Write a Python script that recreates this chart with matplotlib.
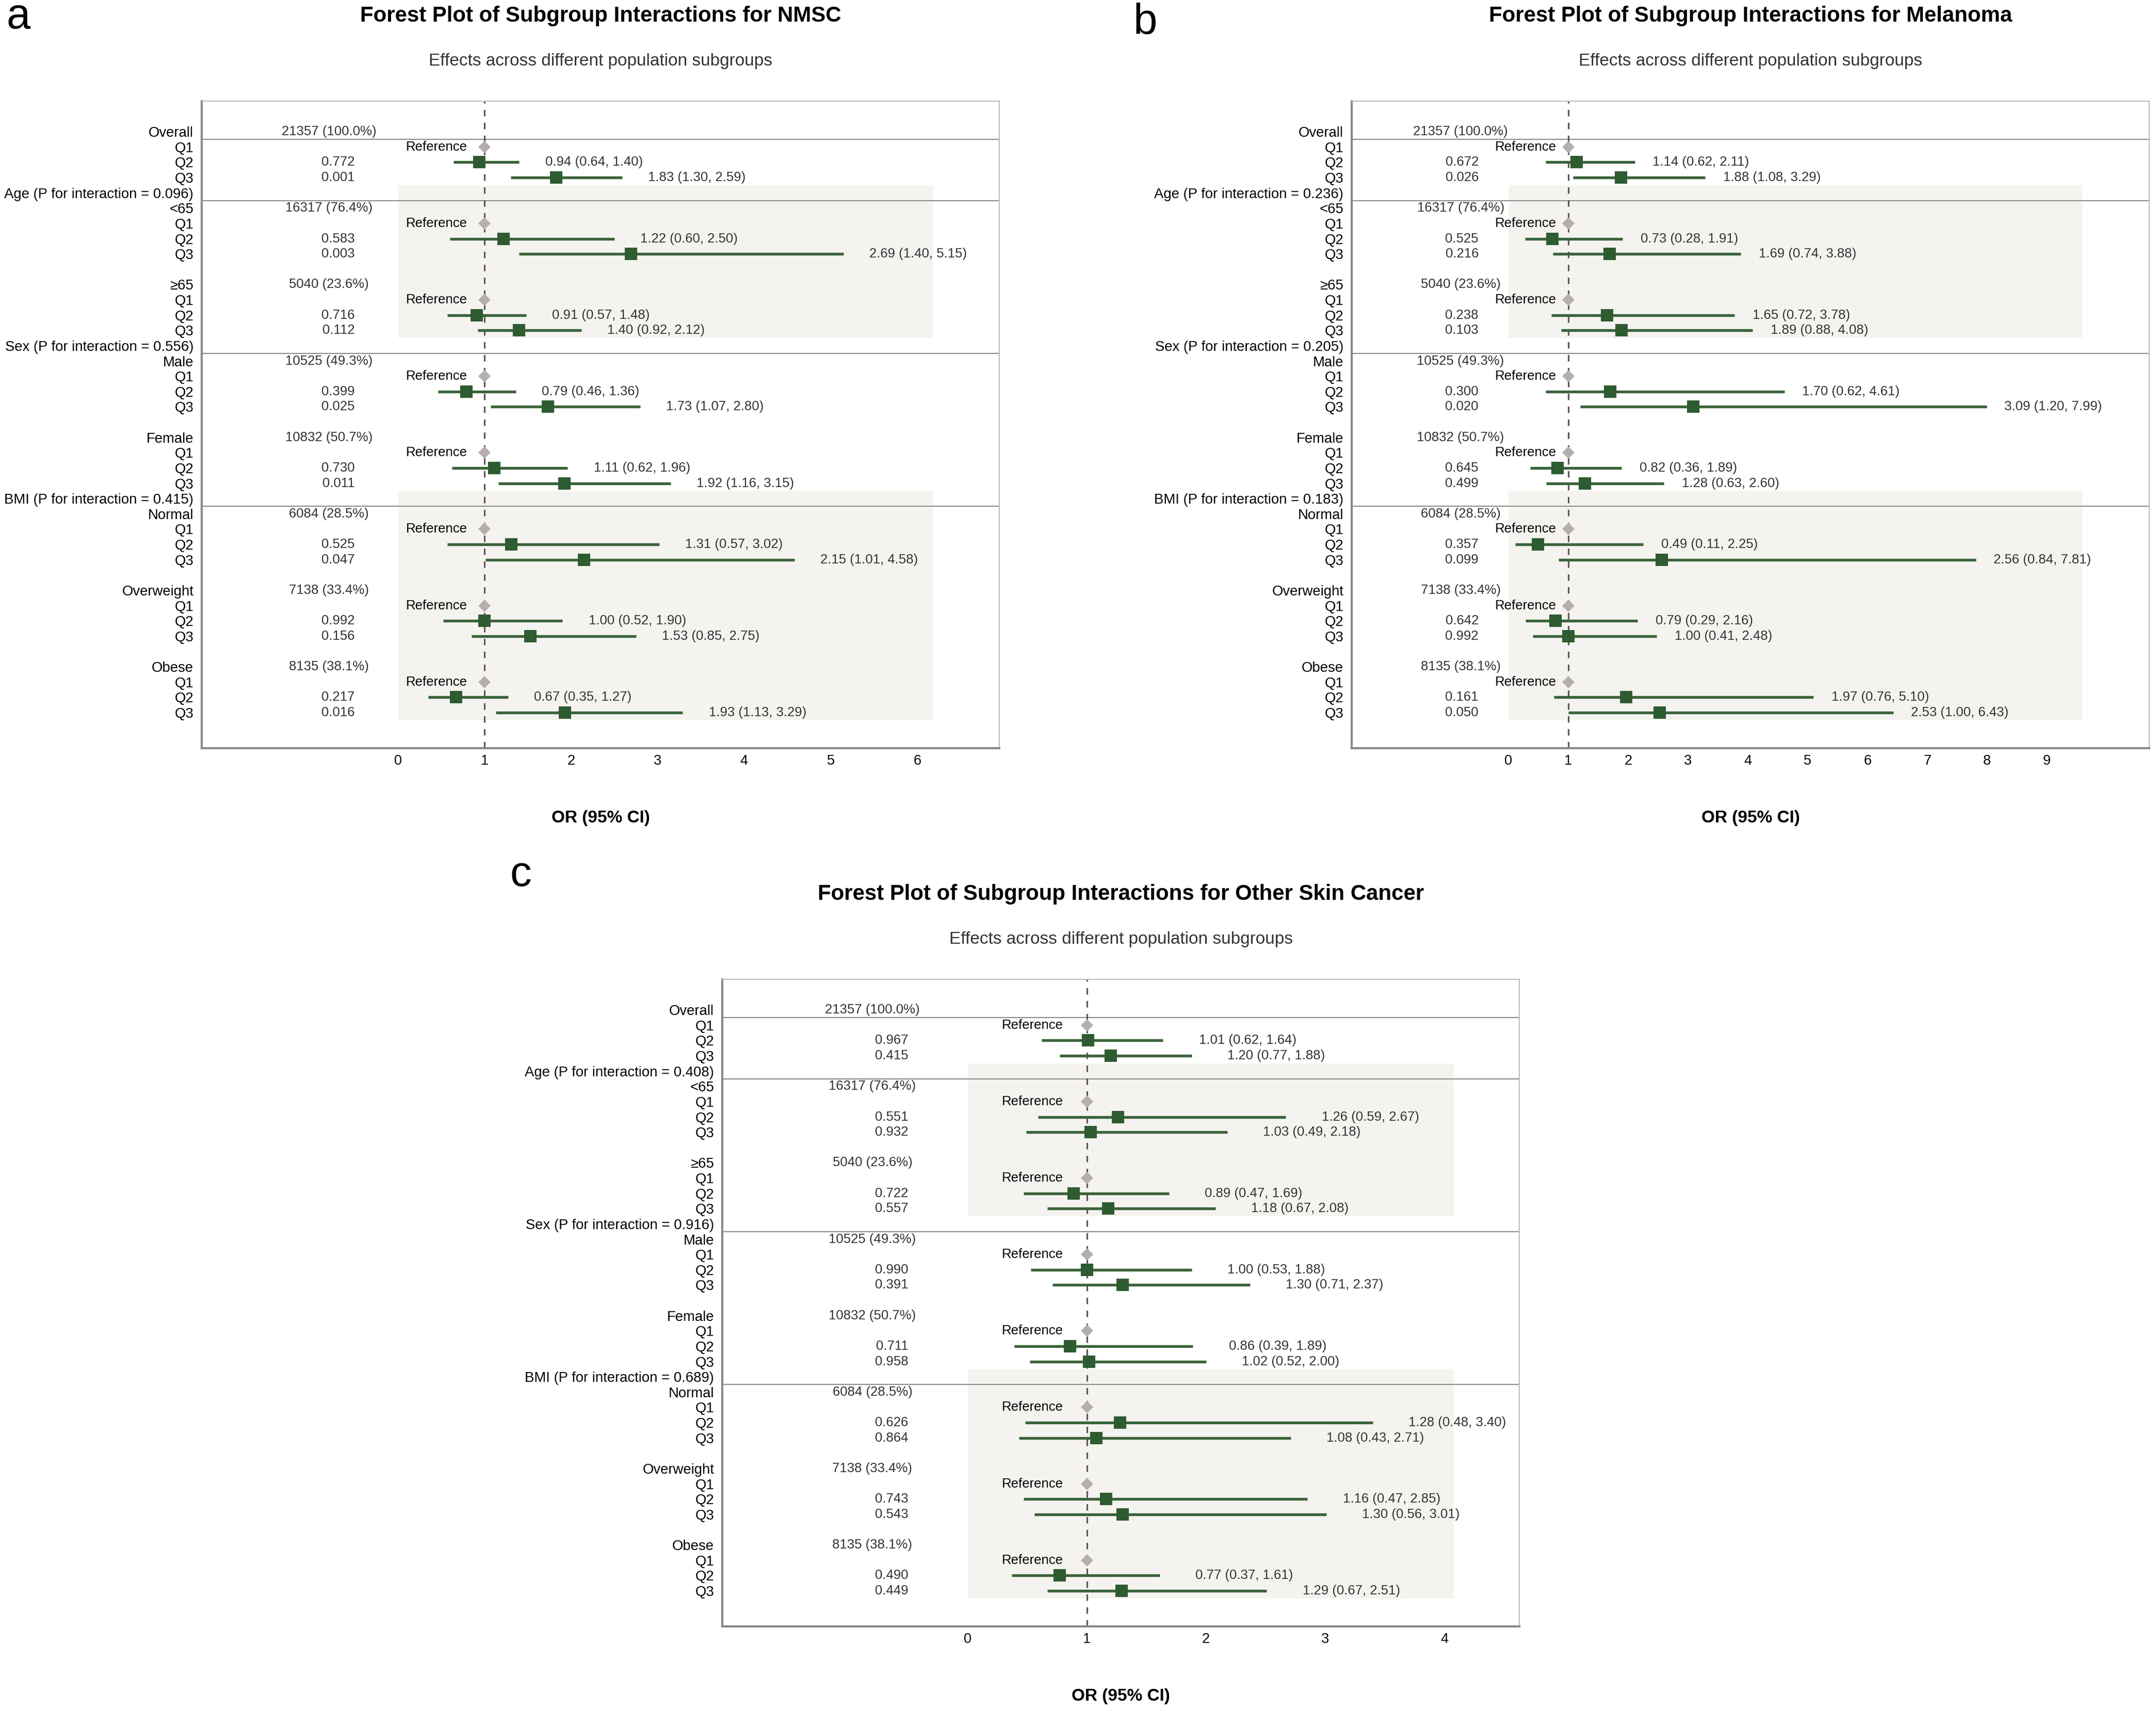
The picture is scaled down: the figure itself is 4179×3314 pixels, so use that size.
import matplotlib
matplotlib.use("Agg")
import matplotlib.pyplot as plt

plt.rcParams['font.family'] = ['Liberation Sans', 'DejaVu Sans']

# Subgroups (same for all three panels)
groups = ["Overall", "<65", "≥65", "Male", "Female", "Normal", "Overweight", "Obese"]
group_n = ["21357 (100.0%)", "16317 (76.4%)", "5040 (23.6%)", "10525 (49.3%)",
           "10832 (50.7%)", "6084 (28.5%)", "7138 (33.4%)", "8135 (38.1%)"]
categories = ["Age", "Sex", "BMI"]
category_groups = [["<65", "≥65"], ["Male", "Female"], ["Normal", "Overweight", "Obese"]]
quartiles = ["Q1", "Q2", "Q3"]

# Values per group, Q2 then Q3
nmsc_or = [0.94, 1.83, 1.22, 2.69, 0.91, 1.40, 0.79, 1.73, 1.11, 1.92, 1.31, 2.15, 1.00, 1.53, 0.67, 1.93]
nmsc_lo = [0.64, 1.30, 0.60, 1.40, 0.57, 0.92, 0.46, 1.07, 0.62, 1.16, 0.57, 1.01, 0.52, 0.85, 0.35, 1.13]
nmsc_hi = [1.40, 2.59, 2.50, 5.15, 1.48, 2.12, 1.36, 2.80, 1.96, 3.15, 3.02, 4.58, 1.90, 2.75, 1.27, 3.29]
nmsc_p = [0.772, 0.001, 0.583, 0.003, 0.716, 0.112, 0.399, 0.025, 0.730, 0.011, 0.525, 0.047, 0.992, 0.156, 0.217, 0.016]
nmsc_p_int = [0.096, 0.556, 0.415]

mel_or = [1.14, 1.88, 0.73, 1.69, 1.65, 1.89, 1.70, 3.09, 0.82, 1.28, 0.49, 2.56, 0.79, 1.00, 1.97, 2.53]
mel_lo = [0.62, 1.08, 0.28, 0.74, 0.72, 0.88, 0.62, 1.20, 0.36, 0.63, 0.11, 0.84, 0.29, 0.41, 0.76, 1.00]
mel_hi = [2.11, 3.29, 1.91, 3.88, 3.78, 4.08, 4.61, 7.99, 1.89, 2.60, 2.25, 7.81, 2.16, 2.48, 5.10, 6.43]
mel_p = [0.672, 0.026, 0.525, 0.216, 0.238, 0.103, 0.300, 0.020, 0.645, 0.499, 0.357, 0.099, 0.642, 0.992, 0.161, 0.050]
mel_p_int = [0.236, 0.205, 0.183]

oth_or = [1.01, 1.20, 1.26, 1.03, 0.89, 1.18, 1.00, 1.30, 0.86, 1.02, 1.28, 1.08, 1.16, 1.30, 0.77, 1.29]
oth_lo = [0.62, 0.77, 0.59, 0.49, 0.47, 0.67, 0.53, 0.71, 0.39, 0.52, 0.48, 0.43, 0.47, 0.56, 0.37, 0.67]
oth_hi = [1.64, 1.88, 2.67, 2.18, 1.69, 2.08, 1.88, 2.37, 1.89, 2.00, 3.40, 2.71, 2.85, 3.01, 1.61, 2.51]
oth_p = [0.967, 0.415, 0.551, 0.932, 0.722, 0.557, 0.990, 0.391, 0.711, 0.958, 0.626, 0.864, 0.743, 0.543, 0.490, 0.449]
oth_p_int = [0.408, 0.916, 0.689]

# Colours
GREEN = '#2f5b30'
LINE_GREEN = '#3a643a'
DIAMOND = '#b5aeac'
SHADE = '#f5f3f0'
TEXT_GREY = '#333333'

W, H = 4179, 3314
fig = plt.figure(figsize=(W / 300, H / 300), dpi=300)


def px_rect(l, t, r, b):
    return [l / W, 1 - b / H, (r - l) / W, (b - t) / H]


def layout(p_int):
    labels, group_row, header_row, spans = [], [], [], []

    def add_group(g):
        group_row.append(len(labels))
        labels.append(g)
        labels.extend(quartiles)

    add_group(groups[0])
    for ci, cat in enumerate(categories):
        header_row.append(len(labels))
        labels.append(f"{cat} (P for interaction = {p_int[ci]:.3f})")
        for j, g in enumerate(category_groups[ci]):
            if j > 0:
                labels.append("")
            add_group(g)
        spans.append((header_row[-1], len(labels) - 1))
    return labels, group_row, header_row, spans


def draw(rect, letter, letter_pos, name, or_, lo, hi, p, p_int, xlim):
    l, t, r, b = rect
    ax = fig.add_axes(px_rect(l, t, r, b))
    labels, group_row, header_row, spans = layout(p_int)
    xmax = max(hi) * 1.2

    ax.set_xlim(*xlim)
    ax.set_ylim(40.33, -2)

    # shaded bands for Age and BMI blocks
    for k in (0, 2):
        a, e = spans[k]
        ax.fill_betweenx([a - 0.5, e + 0.5], 0, xmax, color=SHADE, lw=0, zorder=0)

    for row in [group_row[0]] + header_row:
        ax.axhline(row + 0.5, color='#8d8d8d', lw=0.5, zorder=1)
    ax.axvline(1, color='#5e5656', lw=0.75, dashes=(4, 4), zorder=1.5)

    for gi, row in enumerate(group_row):
        ax.text(-0.8, row, group_n[gi], ha='center', va='center', fontsize=6.2, color=TEXT_GREY)
        ax.plot(1, row + 1, 'D', ms=4.1, color=DIAMOND, mew=0, zorder=3)
        ax.text(0.8, row + 1, "Reference", ha='right', va='center', fontsize=6.2, color='black')
        for k in range(2):
            i = 2 * gi + k
            y = row + 2 + k
            ax.plot([lo[i], hi[i]], [y, y], color=LINE_GREEN, lw=1.3, solid_capstyle='butt', zorder=2)
            ax.plot(or_[i], y, 's', ms=5.7, color=GREEN, mew=0, zorder=3)
            ax.text(-0.5, y, f"{p[i]:.3f}", ha='right', va='center', fontsize=6.2, color=TEXT_GREY)
            ax.text(hi[i] + 0.3, y, f"{or_[i]:.2f} ({lo[i]:.2f}, {hi[i]:.2f})",
                    ha='left', va='center', fontsize=6.2, color=TEXT_GREY)

    ax.set_yticks(range(len(labels)))
    ax.set_yticklabels(labels, fontsize=6.6)
    ax.set_xticks(range(int(xmax) + 1))
    ax.tick_params(axis='y', length=0, pad=3.8)
    ax.tick_params(axis='x', length=0, pad=3.0, labelsize=6.5)

    for s in ('left', 'bottom'):
        ax.spines[s].set_color('#8e8785')
        ax.spines[s].set_linewidth(1.0)
    for s in ('top', 'right'):
        ax.spines[s].set_color('#bdbdbd')
        ax.spines[s].set_linewidth(0.5)

    cx = (l + r) / 2 / W
    fig.text(cx, 1 - (t - 154) / H, f"Forest Plot of Subgroup Interactions for {name}",
             ha='center', va='baseline', fontsize=10.1, weight='bold')
    fig.text(cx, 1 - (t - 69) / H, "Effects across different population subgroups",
             ha='center', va='baseline', fontsize=8, color=TEXT_GREY)
    fig.text(cx, 1 - (b + 144) / H, "OR (95% CI)", ha='center', va='baseline',
             fontsize=8, weight='bold')
    fig.text(letter_pos[0] / W, 1 - letter_pos[1] / H, letter, ha='left', va='baseline',
             fontsize=20)


draw((391, 196, 1937, 1450), 'a', (12, 55), 'NMSC',
     nmsc_or, nmsc_lo, nmsc_hi, nmsc_p, nmsc_p_int, (-2.27, 6.95))
draw((2620, 196, 4166, 1450), 'b', (2197, 66), 'Melanoma',
     mel_or, mel_lo, mel_hi, mel_p, mel_p_int, (-2.62, 10.71))
draw((1400, 1898, 2945, 3152), 'c', (988, 1717), 'Other Skin Cancer',
     oth_or, oth_lo, oth_hi, oth_p, oth_p_int, (-2.06, 4.63))

fig.savefig('out.png', dpi=300)
